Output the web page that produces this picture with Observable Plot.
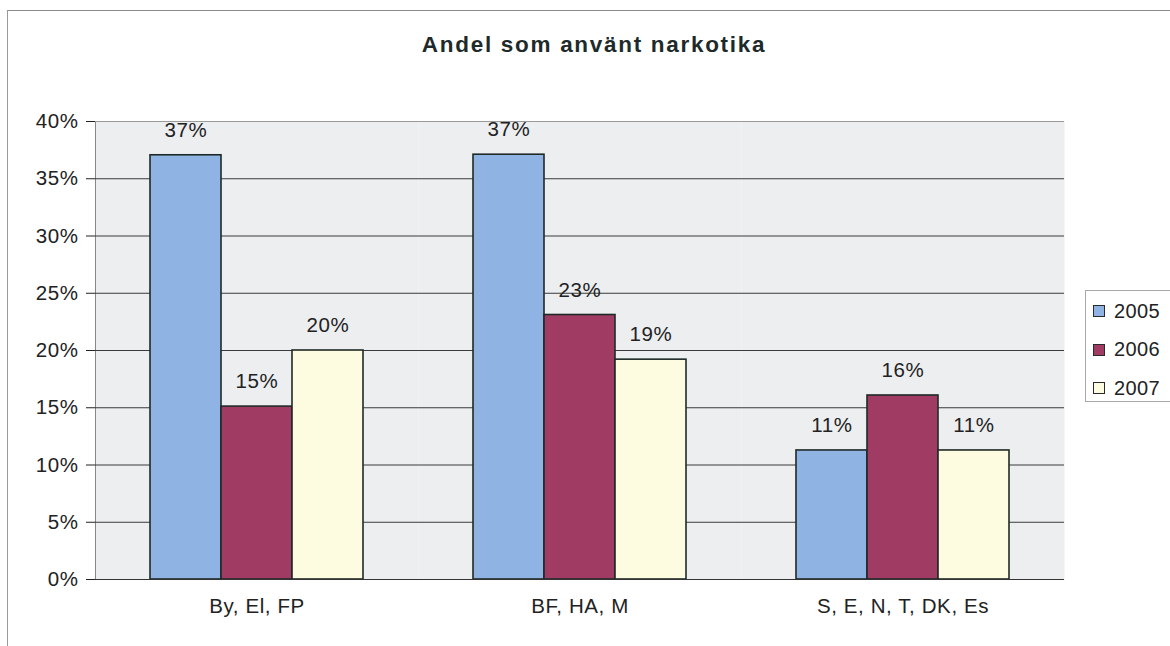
<!DOCTYPE html>
<html>
<head>
<meta charset="utf-8">
<script src="https://cdn.jsdelivr.net/npm/d3@7"></script>
<script src="https://cdn.jsdelivr.net/npm/@observablehq/plot@0.6"></script>
<style>
  html, body { margin: 0; padding: 0; background: #fff; }
  #wrap { position: relative; width: 1170px; height: 646px; overflow: hidden; background: #fff;
          font-family: "Liberation Sans", Arial, sans-serif; color: #222; }
  #border { position: absolute; left: 7px; top: 10px; width: 1200px; height: 700px;
            border-left: 1px solid #9a9a9a; border-top: 1px solid #8a8a8a; }
  #title { position: absolute; left: 0; top: 0; width: 1170px; height: 100px; }
  #title span { position: absolute; left: 594px; top: 45px; transform: translate(-50%, -50%);
                font-size: 22.5px; font-weight: bold; letter-spacing: 1.7px; white-space: nowrap; color: #1e2a2a; }
  #chart { position: absolute; left: 0; top: 100px; }
  #legend { position: absolute; left: 1085px; top: 290px; width: 100px; height: 110px;
            border: 1px solid #a8a8a8; background: #fff; }
  .item { position: absolute; left: 7px; height: 20px; display: flex; align-items: center; font-size: 20px; letter-spacing: 0.4px; color: #222; }
  .sw { width: 10px; height: 10px; border: 1.3px solid #2a2a2a; margin-right: 9px; }
</style>
</head>
<body>
<div id="wrap">
  <div id="border"></div>
  <div id="title"><span></span></div>
  <div id="chart"></div>
  <div id="legend"></div>
</div>
<script>
const title = "Andel som använt narkotika";
const groups = ["By, El, FP", "BF, HA, M", "S, E, N, T, DK, Es"];
const years = ["2005", "2006", "2007"];
const values2005 = [37.05, 37.1, 11.27];
const values2006 = [15.1, 23.1, 16.07];
const values2007 = [20.0, 19.2, 11.27];
const colors = ["#8fb3e3", "#a03c64", "#fdfbe0"];
const yTicks = [0, 5, 10, 15, 20, 25, 30, 35, 40];

const series = [values2005, values2006, values2007];
const data = [];
groups.forEach((g, i) => years.forEach((y, j) => data.push({group: g, year: y, value: series[j][i]})));

document.querySelector("#title span").textContent = title;

const innerTicks = yTicks.filter(t => t > 0 && t < 40);

const chart = Plot.plot({
  width: 1075,
  height: 546,
  marginTop: 21,
  marginBottom: 67,
  marginLeft: 94,
  marginRight: 10,
  style: {fontFamily: "'Liberation Sans', Arial, sans-serif", fontSize: "20.5px", color: "#222", background: "transparent", letterSpacing: "0.6px"},
  facet: {data, x: "group"},
  fx: {domain: groups, padding: 0, label: null, axis: "bottom", tickSize: 0, tickPadding: 19},
  x: {domain: years, axis: null, paddingInner: 0, paddingOuter: 0.75},
  y: {domain: [0, 40], ticks: yTicks, tickFormat: d => d + "%", label: null, tickSize: 9, tickPadding: 8, line: true},
  color: {domain: years, range: colors},
  marks: [
    Plot.frame({fill: "#eceef0", stroke: "none"}),
    Plot.ruleY(innerTicks, {stroke: "#3a3a3a", strokeWidth: 1}),
    Plot.ruleY([40], {stroke: "#9a9a9a", strokeWidth: 1.2}),
    Plot.barY(data, {x: "year", y: "value", fill: "year", stroke: "#1f2a26", strokeWidth: 1.6}),
    Plot.ruleY([0], {stroke: "#333", strokeWidth: 1.2}),
    Plot.text(data, {x: "year", y: "value", text: d => Math.round(d.value) + "%", dy: -25, fontSize: 20.5, fill: "#222"})
  ]
});
document.getElementById("chart").appendChild(chart);

const legend = document.getElementById("legend");
years.forEach((y, j) => {
  const it = document.createElement("div");
  it.className = "item";
  it.style.top = (10 + j * 38.5) + "px";
  const sw = document.createElement("div");
  sw.className = "sw";
  sw.style.background = colors[j];
  const tx = document.createElement("span");
  tx.textContent = y;
  it.appendChild(sw); it.appendChild(tx);
  legend.appendChild(it);
});
</script>
</body>
</html>
